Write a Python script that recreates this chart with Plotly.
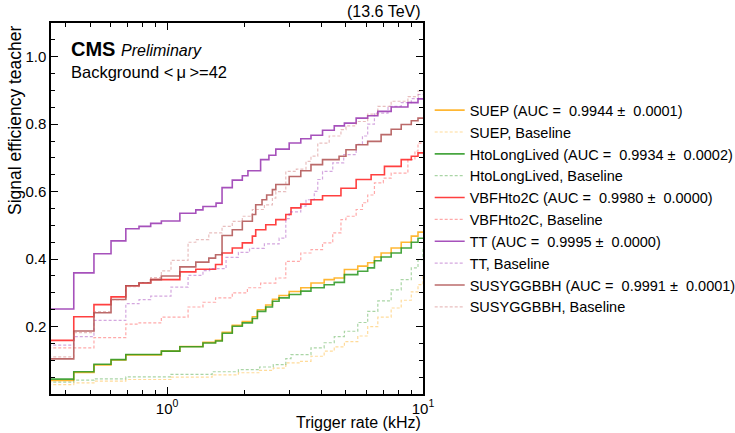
import plotly.graph_objects as go

# ---------------- data (trigger rate in kHz where each step begins, efficiency) -------------
suep_x = [0.30, 0.432, 0.518, 0.604, 0.690, 0.950, 1.122, 1.381, 1.547, 1.643, 1.798, 1.968, 2.154, 2.254, 2.429,
          2.581, 2.739, 3.00, 3.33, 3.65, 4.11, 4.50, 4.93, 5.56, 6.08, 6.46, 6.86, 7.51, 8.22, 9.00, 9.56, 10.5]
suep_y = [0.040, 0.064, 0.086, 0.101, 0.116, 0.127, 0.141, 0.153, 0.159, 0.183, 0.204, 0.215, 0.229, 0.250, 0.264,
          0.281, 0.292, 0.304, 0.315, 0.329, 0.339, 0.344, 0.369, 0.379, 0.389, 0.406, 0.418, 0.433, 0.450, 0.468, 0.480, 0.487]

suep_base_x = [0.30, 0.432, 0.518, 0.690, 1.036, 1.50, 1.90, 2.30, 2.60, 2.91, 3.30, 3.65, 4.11, 4.50, 4.93,
               5.56, 6.08, 6.66, 7.51, 8.22, 9.00, 9.56, 10.0, 10.5]
suep_base_y = [0.028, 0.033, 0.038, 0.043, 0.050, 0.057, 0.063, 0.070, 0.077, 0.092, 0.097, 0.112, 0.127, 0.140, 0.155,
               0.172, 0.200, 0.228, 0.255, 0.278, 0.303, 0.324, 0.349, 0.352]

hll_x = [0.30, 0.432, 0.518, 0.604, 0.690, 0.950, 1.122, 1.381, 1.547, 1.643, 1.798, 1.968, 2.154, 2.254, 2.429,
         2.581, 2.739, 3.00, 3.33, 3.65, 4.11, 4.50, 4.93, 5.56, 6.08, 6.46, 6.86, 7.51, 8.22, 9.00, 9.56, 10.5]
hll_y = [0.044, 0.066, 0.088, 0.102, 0.117, 0.127, 0.140, 0.151, 0.157, 0.180, 0.201, 0.211, 0.224, 0.245, 0.258,
         0.275, 0.285, 0.295, 0.305, 0.315, 0.324, 0.331, 0.354, 0.364, 0.374, 0.395, 0.406, 0.418, 0.433, 0.450, 0.462, 0.470]

hll_base_x = [0.30, 0.432, 0.518, 0.690, 1.036, 1.50, 1.90, 2.30, 2.60, 2.91, 3.05, 3.65, 4.11, 4.50, 4.93,
              5.56, 6.08, 6.66, 7.51, 8.22, 9.00, 9.56, 10.0, 10.5]
hll_base_y = [0.035, 0.041, 0.045, 0.051, 0.058, 0.066, 0.072, 0.080, 0.087, 0.105, 0.117, 0.137, 0.152, 0.170, 0.186,
              0.212, 0.245, 0.276, 0.309, 0.339, 0.374, 0.398, 0.428, 0.430]

vbf_x = [0.30, 0.432, 0.518, 0.604, 0.690, 0.777, 0.863, 1.122, 1.295, 1.547, 1.640, 1.798, 1.968, 2.154, 2.22,
         2.43, 2.66, 2.91, 3.05, 3.33, 3.65, 4.05, 4.78, 5.48, 6.27, 7.07, 8.22, 9.00, 9.56, 10.5]
vbf_y = [0.159, 0.229, 0.265, 0.288, 0.321, 0.329, 0.339, 0.362, 0.370, 0.384, 0.418, 0.433, 0.448, 0.468, 0.487,
         0.502, 0.517, 0.532, 0.552, 0.563, 0.576, 0.588, 0.610, 0.636, 0.650, 0.675, 0.695, 0.705, 0.715, 0.720]

vbf_base_x = [0.30, 0.518, 0.690, 0.777, 0.950, 1.208, 1.381, 1.547, 1.798, 2.06, 2.32, 2.66, 2.91, 3.33, 3.65,
              4.05, 4.44, 4.78, 5.00, 5.48, 5.80, 6.08, 6.46, 7.00, 7.51, 8.73, 9.30, 9.56, 10.5]
vbf_base_y = [0.137, 0.167, 0.207, 0.211, 0.228, 0.258, 0.272, 0.285, 0.300, 0.315, 0.329, 0.344, 0.393, 0.418, 0.428,
              0.448, 0.478, 0.517, 0.527, 0.547, 0.567, 0.590, 0.626, 0.640, 0.655, 0.695, 0.720, 0.744, 0.756]

tt_x = [0.30, 0.432, 0.518, 0.604, 0.690, 0.777, 0.863, 0.950, 1.122, 1.295, 1.381, 1.554, 1.640, 1.798, 1.968,
        2.07, 2.32, 2.50, 2.66, 3.00, 3.33, 3.65, 4.05, 4.50, 4.93, 5.48, 6.08, 6.66, 7.51, 8.73, 9.56, 10.5]
tt_y = [0.252, 0.359, 0.416, 0.454, 0.490, 0.497, 0.506, 0.513, 0.536, 0.546, 0.556, 0.566, 0.612, 0.634, 0.647,
        0.662, 0.695, 0.708, 0.726, 0.744, 0.757, 0.767, 0.782, 0.795, 0.803, 0.818, 0.825, 0.838, 0.851, 0.864, 0.875, 0.878]

tt_base_x = [0.30, 0.432, 0.518, 0.690, 0.777, 0.863, 1.036, 1.208, 1.381, 1.467, 1.70, 1.90, 2.10, 2.40, 2.74,
             2.91, 3.00, 3.33, 3.49, 3.76, 3.88, 4.05, 4.44, 4.90, 5.48, 5.80, 6.08, 6.46, 7.30, 8.22, 9.00, 9.60, 10.5]
tt_base_y = [0.145, 0.170, 0.218, 0.268, 0.280, 0.290, 0.317, 0.352, 0.366, 0.372, 0.405, 0.420, 0.432, 0.445, 0.462,
             0.520, 0.540, 0.557, 0.576, 0.601, 0.636, 0.660, 0.685, 0.710, 0.740, 0.765, 0.800, 0.833, 0.853, 0.864, 0.876, 0.888, 0.892]

susy_x = [0.30, 0.432, 0.518, 0.604, 0.690, 0.777, 0.863, 0.950, 1.122, 1.295, 1.456, 1.547, 1.640, 1.798, 1.968,
          2.154, 2.22, 2.35, 2.45, 2.58, 2.66, 3.00, 3.33, 3.65, 4.05, 4.70, 5.00, 5.48, 6.08, 6.86, 7.51, 8.22, 9.00, 9.56, 10.5]
susy_y = [0.104, 0.187, 0.241, 0.280, 0.321, 0.330, 0.339, 0.350, 0.377, 0.391, 0.403, 0.413, 0.470, 0.487, 0.512,
          0.532, 0.561, 0.576, 0.590, 0.606, 0.621, 0.645, 0.662, 0.680, 0.695, 0.705, 0.724, 0.739, 0.749, 0.769, 0.785, 0.799, 0.810, 0.818, 0.823]

susy_base_x = [0.30, 0.432, 0.518, 0.604, 0.690, 0.777, 0.863, 0.950, 1.036, 1.208, 1.295, 1.456, 1.640, 1.798, 1.968,
               2.154, 2.40, 2.58, 2.66, 2.91, 3.20, 3.49, 3.65, 3.88, 4.30, 4.78, 5.00, 5.48, 6.08, 6.66, 7.51, 8.73, 9.56, 10.5]
susy_base_y = [0.110, 0.182, 0.244, 0.280, 0.318, 0.330, 0.345, 0.365, 0.396, 0.450, 0.458, 0.478, 0.497, 0.512, 0.527,
               0.547, 0.561, 0.581, 0.600, 0.660, 0.667, 0.690, 0.705, 0.744, 0.765, 0.784, 0.795, 0.808, 0.830, 0.853, 0.868, 0.882, 0.898, 0.905]

names = ["SUEP (AUC = \u00a00.9944 \u00b1 \u00a00.0001)", "SUEP, Baseline",
         "HtoLongLived (AUC = \u00a00.9934 \u00b1 \u00a00.0002)", "HtoLongLived, Baseline",
         "VBFHto2C (AUC = \u00a00.9980 \u00b1 \u00a00.0000)", "VBFHto2C, Baseline",
         "TT (AUC = \u00a00.9995 \u00b1 \u00a00.0000)", "TT, Baseline",
         "SUSYGGBBH (AUC = \u00a00.9991 \u00b1 \u00a00.0001)", "SUSYGGBBH, Baseline"]

x_tick_vals = [1, 10]
x_tick_text = ["10<sup>0</sup>", "10<sup>1</sup>"]
x_minor_vals = [0.4, 0.5, 0.6, 0.7, 0.8, 0.9, 2, 3, 4, 5, 6, 7, 8, 9]
y_tick_vals = [0.2, 0.4, 0.6, 0.8, 1.0]
y_tick_text = ["0.2", "0.4", "0.6", "0.8", "1.0"]

series = [
    (suep_x, suep_y, "rgba(255,165,0,0.80)", "solid", 1.6),
    (suep_base_x, suep_base_y, "rgba(255,165,0,0.40)", "3px,2px", 1.2),
    (hll_x, hll_y, "rgba(40,150,30,0.85)", "solid", 1.6),
    (hll_base_x, hll_base_y, "rgba(40,150,30,0.40)", "3px,2px", 1.2),
    (vbf_x, vbf_y, "rgba(255,30,30,0.85)", "solid", 1.6),
    (vbf_base_x, vbf_base_y, "rgba(255,40,40,0.40)", "3px,2px", 1.2),
    (tt_x, tt_y, "rgba(150,50,175,0.85)", "solid", 1.6),
    (tt_base_x, tt_base_y, "rgba(160,60,185,0.45)", "3px,2px", 1.2),
    (susy_x, susy_y, "rgba(175,80,80,0.85)", "solid", 1.6),
    (susy_base_x, susy_base_y, "rgba(205,110,110,0.45)", "3px,2px", 1.2),
]

FONT = "Liberation Sans, Arial, sans-serif"

fig = go.Figure()
for (xs, ys, col, dash, w), nm in zip(series, names):
    fig.add_trace(go.Scatter(x=xs, y=ys, mode="lines", name=nm,
                             line=dict(color=col, width=w, dash=dash, shape="hv")))

fig.update_layout(
    width=735, height=433,
    margin=dict(l=51, r=312, t=23, b=39, pad=0, autoexpand=False),
    paper_bgcolor="white", plot_bgcolor="white",
    font=dict(family=FONT, size=14, color="black"),
    showlegend=True,
    legend=dict(x=1.018, y=0.808, xanchor="left", yanchor="top",
                font=dict(family=FONT, size=14.5, color="black"),
                bgcolor="rgba(0,0,0,0)", borderwidth=0, itemwidth=30,
                tracegroupgap=0),
)

fig.update_xaxes(type="log", range=[-0.4535, 1.0], automargin=False,
                 tickvals=x_tick_vals, ticktext=x_tick_text,
                 ticks="inside", ticklen=7, tickwidth=1, tickcolor="black",
                 minor=dict(tickvals=x_minor_vals, ticks="inside", ticklen=4, tickwidth=1, tickcolor="black"),
                 showline=True, linecolor="black", linewidth=1.5, mirror="ticks",
                 showgrid=False, zeroline=False,
                 tickfont=dict(family=FONT, size=15, color="black"))
fig.update_yaxes(range=[0, 1.1], automargin=False,
                 tickvals=y_tick_vals, ticktext=y_tick_text,
                 ticks="inside", ticklen=7, tickwidth=1, tickcolor="black",
                 minor=dict(dtick=0.05, tick0=0, ticks="inside", ticklen=4, tickwidth=1, tickcolor="black"),
                 showline=True, linecolor="black", linewidth=1.5, mirror="ticks",
                 showgrid=False, zeroline=False,
                 tickfont=dict(family=FONT, size=15, color="black"))

annotations = [
    dict(text="(13.6 TeV)", x=1.0, y=1.0, xref="paper", yref="paper", xanchor="right", yanchor="bottom",
         yshift=1, showarrow=False, font=dict(family=FONT, size=16)),
    dict(text="<b>CMS</b> <i><span style='font-size:16px'>Preliminary</span></i>", x=0.048, y=0.93,
         xref="paper", yref="paper", xanchor="left", yanchor="middle", showarrow=False,
         font=dict(family=FONT, size=20)),
    dict(text="Background &lt;\u2009μ\u2009&gt;=42", x=0.048, y=0.868, xref="paper", yref="paper",
         xanchor="left", yanchor="middle", showarrow=False, font=dict(family=FONT, size=16.5)),
    dict(text="Trigger rate (kHz)", x=1.0, y=0, xref="paper", yref="paper", xanchor="right", yanchor="top",
         yshift=-18, showarrow=False, font=dict(family=FONT, size=16)),
    dict(text="Signal efficiency teacher", x=0, y=1.0, xref="paper", yref="paper", xanchor="right",
         yanchor="top", xshift=-24, showarrow=False, textangle=-90, font=dict(family=FONT, size=17.5)),
]
fig.update_layout(annotations=annotations)

fig.write_html("out.html", config={"displayModeBar": False},
               post_script="document.body.style.margin='0';document.body.style.padding='0';")
